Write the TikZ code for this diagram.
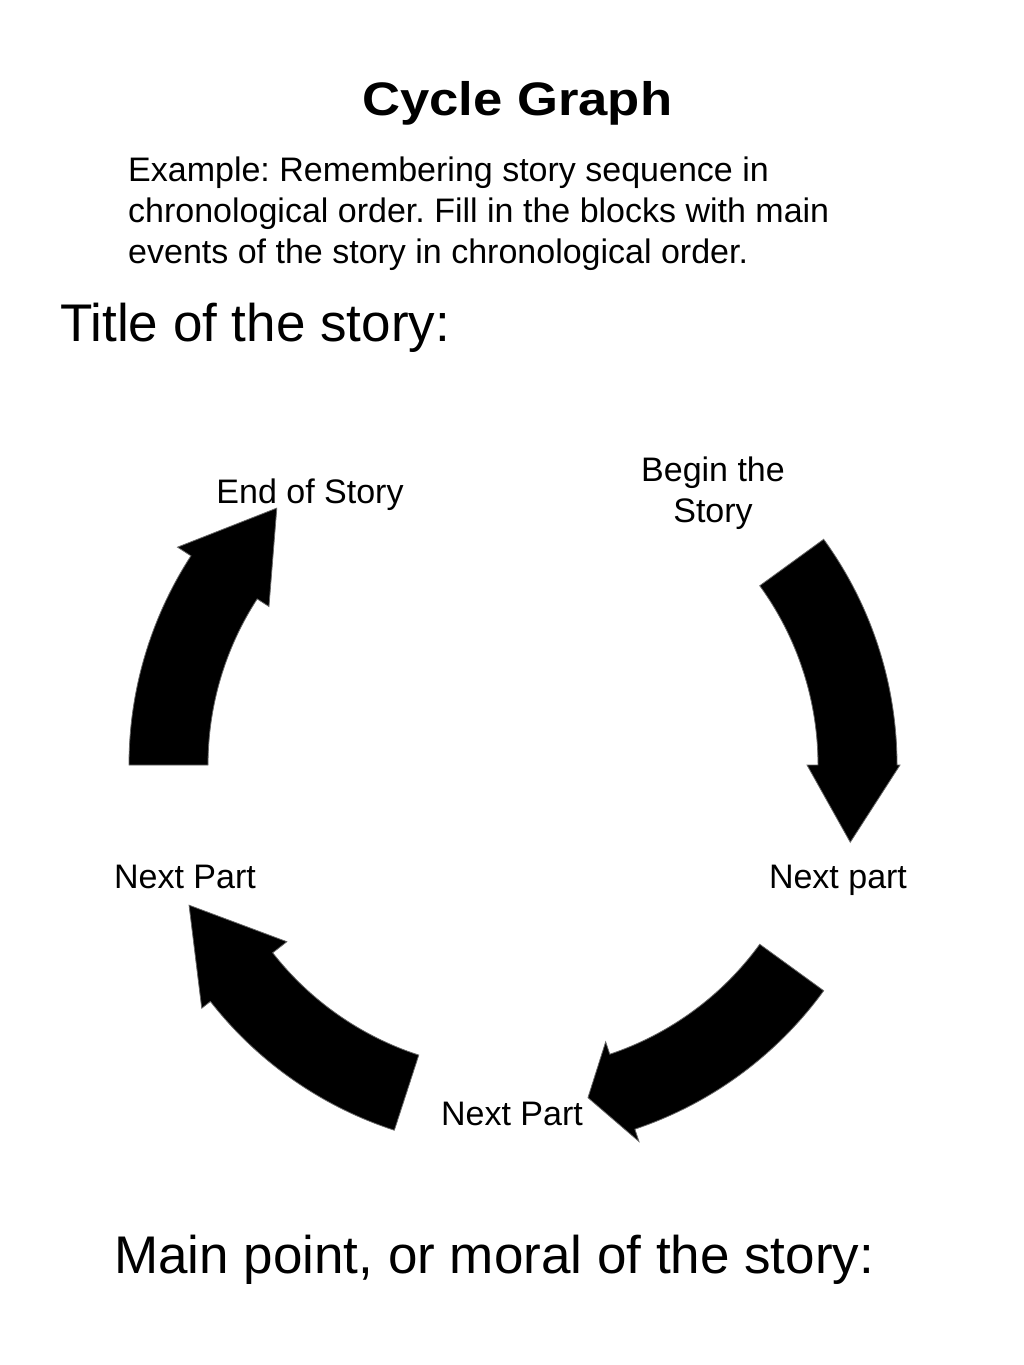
\documentclass[tikz,border=0pt]{standalone}
\usepackage{fontspec}
\setmainfont{Liberation Sans}
\frenchspacing

\tikzset{
    partlabel/.style={font=\fontsize{34}{41}\selectfont, anchor=base, inner sep=0pt},
    bigtext/.style={font=\fontsize{53}{60}\selectfont, anchor=base west, inner sep=0pt},
    blockarrow/.style={fill=black, draw=black!60, line width=0.8pt},
}

\begin{document}
\begin{tikzpicture}[x=1pt, y=1pt]
        \useasboundingbox (0,0) rectangle (1024,-1365);

        \node[anchor=base west, inner sep=0pt, font=\fontsize{47}{50}\selectfont\bfseries] (heading) at (362,-115) {\scalebox{1.12}[1]{Cycle Graph}};
        \node[anchor=north west, inner sep=0pt, align=left, font=\fontsize{34}{41}\selectfont] (example) at (128,-157)
            {Example: Remembering story sequence in\\chronological order. Fill in the blocks with main\\events of the story in chronological order.};
        \node[bigtext] (storytitle) at (60,-341) {Title of the story:};

        % four curved block arrows round the centre of the cycle
        \begin{scope}[shift={(513,-765)}]
            \foreach \s/\h/\t/\bi/\bo/\tr in {36/0/-12.9/294/387/346, -36/-71.5/-77.3/292/397/341,
                    -108/-142/-156.6/287/395/353, 180/147/132.6/291/400/349}
                \draw[blockarrow] (\s:384) arc[start angle=\s, end angle=\h, radius=384] -- (\h:\bo) -- (\t:\tr)
                    -- (\h:\bi) -- (\h:305) arc[start angle=\h, end angle=\s, radius=305] -- cycle;
        \end{scope}

        \node[partlabel, align=center, anchor=north] (begin) at (713,-457) {Begin the\\Story};
        \node[partlabel] (nextright) at (838,-888) {Next part};
        \node[partlabel] (nextbottom) at (512,-1125) {Next Part};
        \node[partlabel] (nextleft) at (185,-888) {Next Part};
        \node[partlabel] (end) at (310,-503) {End of Story};

        \node[bigtext] (moral) at (114,-1273) {Main point, or moral of the story:};
    \end{tikzpicture}
\end{document}
